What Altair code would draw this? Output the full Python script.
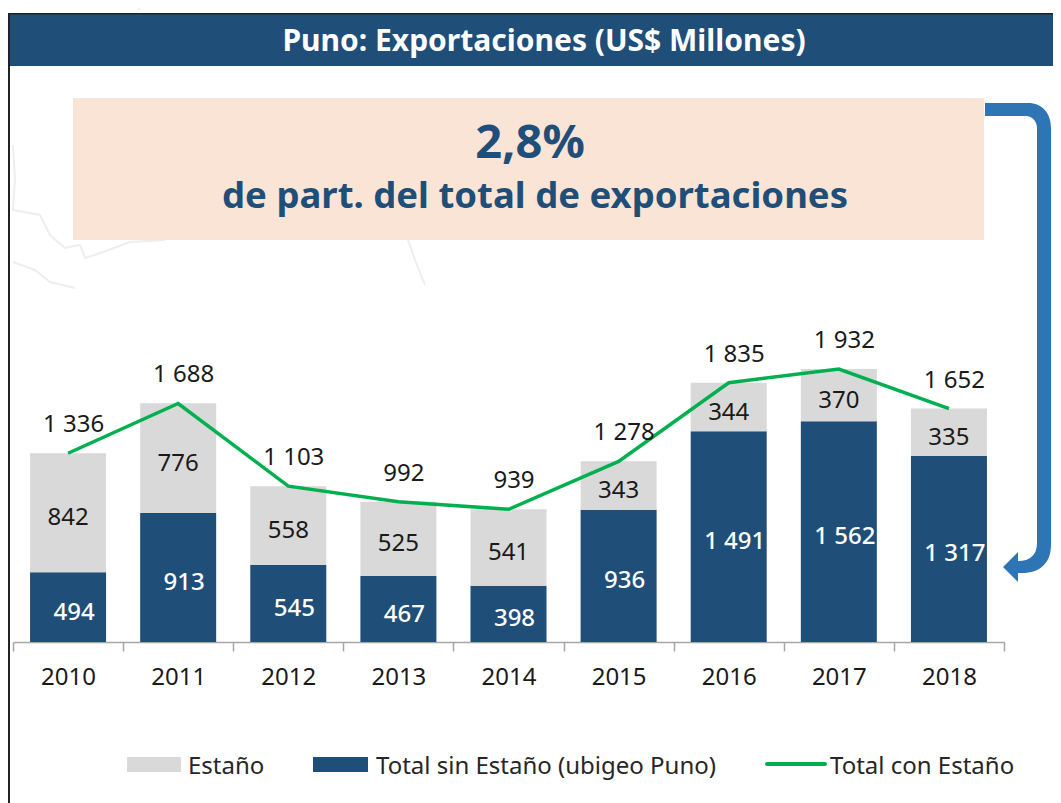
import altair as alt
import pandas as pd

years = ["2010", "2011", "2012", "2013", "2014", "2015", "2016", "2017", "2018"]
estano = [842, 776, 558, 525, 541, 343, 344, 370, 335]
sin_estano = [494, 913, 545, 467, 398, 936, 1491, 1562, 1317]
total = [1336, 1688, 1103, 992, 939, 1278, 1835, 1932, 1652]

BLUE = "#1F4E79"
GREY = "#D9D9D9"
GREEN = "#00B050"
ARROW = "#2E75B6"
PEACH = "#FAE4D6"
FONT = "Noto Sans"


def fmt(v):
    return f"{v:,}".replace(",", " ")


def X(px):
    return px - 13


def Y(py):
    return py - 8


wide = pd.DataFrame({
    "year": years,
    "estano": estano,
    "resto": sin_estano,
    "total": total,
    "estano_c": [r + e / 2 for r, e in zip(sin_estano, estano)],
    "resto_c": [r / 2 for r in sin_estano],
    "estano_t": [fmt(v) for v in estano],
    "resto_t": [fmt(v) for v in sin_estano],
    "total_t": [fmt(v) for v in total],
})
long = pd.DataFrame(
    [{"year": y, "serie": "Total sin Estaño (ubigeo Puno)", "v": v, "o": 0} for y, v in zip(years, sin_estano)]
    + [{"year": y, "serie": "Estaño", "v": v, "o": 1} for y, v in zip(years, estano)]
)
one = pd.DataFrame({"a": [0]})

xenc = alt.X(
    "year:N",
    title=None,
    sort=years,
    scale=alt.Scale(paddingInner=0, paddingOuter=0),
    axis=alt.Axis(
        labelAngle=0, labelFont=FONT, labelFontSize=24, labelColor="#1a1a1a",
        domainColor="#A6A6A6", domainWidth=1.5, tickColor="#A6A6A6", tickWidth=1.5,
        tickSize=9, tickBand="extent", labelPadding=14, grid=False,
    ),
)
yscale = alt.Scale(domain=[0, 4487], nice=False, zero=True)

bars = alt.Chart(long).mark_bar(size=76).encode(
    x=xenc,
    y=alt.Y("v:Q", stack="zero", scale=yscale, axis=None),
    color=alt.Color("serie:N", scale=alt.Scale(domain=["Estaño", "Total sin Estaño (ubigeo Puno)"], range=[GREY, BLUE]), legend=None),
    order=alt.Order("o:Q"),
)
xplain = alt.X("year:N", sort=years, title=None)
yplain = lambda f: alt.Y(f, scale=yscale, axis=None)

line = alt.Chart(wide).mark_line(color=GREEN, strokeWidth=3.5).encode(x=xplain, y=yplain("total:Q"))
lab_e = alt.Chart(wide).mark_text(font=FONT, fontSize=24, color="#1a1a1a", dy=5.5).encode(x=xplain, y=yplain("estano_c:Q"), text="estano_t:N")
lab_r = alt.Chart(wide).mark_text(font=FONT, fontSize=24, color="white", fontWeight=500, dy=5.5, dx=6).encode(x=xplain, y=yplain("resto_c:Q"), text="resto_t:N")
lab_t = alt.Chart(wide).mark_text(font=FONT, fontSize=24, color="#1a1a1a", dy=-28, dx=5.5).encode(x=xplain, y=yplain("total:Q"), text="total_t:N")


def box(x0, x1, y0, y1, color):
    return alt.Chart(one).mark_rect(color=color).encode(
        x=alt.value(X(x0)), x2=alt.value(X(x1)), y=alt.value(Y(y0)), y2=alt.value(Y(y1)))


def label(px, py, s, size, color, weight="normal", align="center"):
    return alt.Chart(one).mark_text(text=s, font=FONT, fontSize=size, color=color, fontWeight=weight, align=align, baseline="middle").encode(
        x=alt.value(X(px)), y=alt.value(Y(py)))


map_path = (
    "M13,145 L15,180 L13,210 L40,215 L50,235 L65,248 L80,245 L85,258 L95,255 L130,242 L165,240 "
    "M13,262 L35,270 L50,282 L75,288 "
    "M408,240 L415,260 L425,285 "
    "M45,6 L65,1 M135,0 L140,10"
)
faint = alt.Chart(one).mark_point(shape=map_path, size=4, filled=False, stroke="#EEEEEE", strokeWidth=2, opacity=1).encode(
    x=alt.value(X(0)), y=alt.value(Y(0)))

header = box(8, 1061, 13, 66, BLUE)
frame_left = box(8, 10, 13, 803, "#222222")
frame_top = box(8, 1061, 13, 14.5, "#222222")
panel = box(73, 984, 98, 240, PEACH)
title = label(544, 42, "Puno: Exportaciones (US$ Millones)", 30, "white", "bold")
big = label(530, 144, "2,8%", 47, BLUE, "bold")
sub = label(535, 197, "de part. del total de exportaciones", 36.5, BLUE, "bold")

arrow_path = (
    "M985,103 L1028,103 C1042,103 1051,113 1051,128 L1051,545 "
    "C1051,563 1040,573 1022,573 L1018,573 L1018,582 L1003,567 L1018,552 L1018,561 "
    "C1030,561 1037,555 1037,543 L1037,128 C1037,121 1032,116 1026,116 L985,116 Z"
)
arrow = alt.Chart(one).mark_point(shape=arrow_path, size=4, filled=True, fill=ARROW, opacity=1, strokeWidth=0).encode(
    x=alt.value(X(0)), y=alt.value(Y(0)))

leg1 = box(127, 181, 757, 772, GREY)
leg1t = label(188, 767, "Estaño", 24, "#262626", align="left")
leg2 = box(313, 368, 757, 772, BLUE)
leg2t = label(376, 767, "Total sin Estaño (ubigeo Puno)", 24, "#262626", align="left")
leg3 = alt.Chart(one).mark_rule(color=GREEN, strokeWidth=4, strokeCap="round").encode(
    x=alt.value(X(767)), x2=alt.value(X(825)), y=alt.value(Y(764)))
leg3t = label(830, 767, "Total con Estaño", 24, "#262626", align="left")

chart = alt.layer(
    faint, panel, header, frame_left, frame_top, title, big, sub, arrow,
    bars, line, lab_e, lab_r, lab_t,
    leg1, leg1t, leg2, leg2t, leg3, leg3t,
).resolve_scale(color="independent").properties(
    width=991, height=634,
    autosize=alt.AutoSizeParams(type="none"),
    padding={"left": 5, "top": 0, "right": 49, "bottom": 161},
    background="white",
).configure_view(stroke=None)

chart.save("out.html", embed_options={"renderer": "svg", "actions": False})
